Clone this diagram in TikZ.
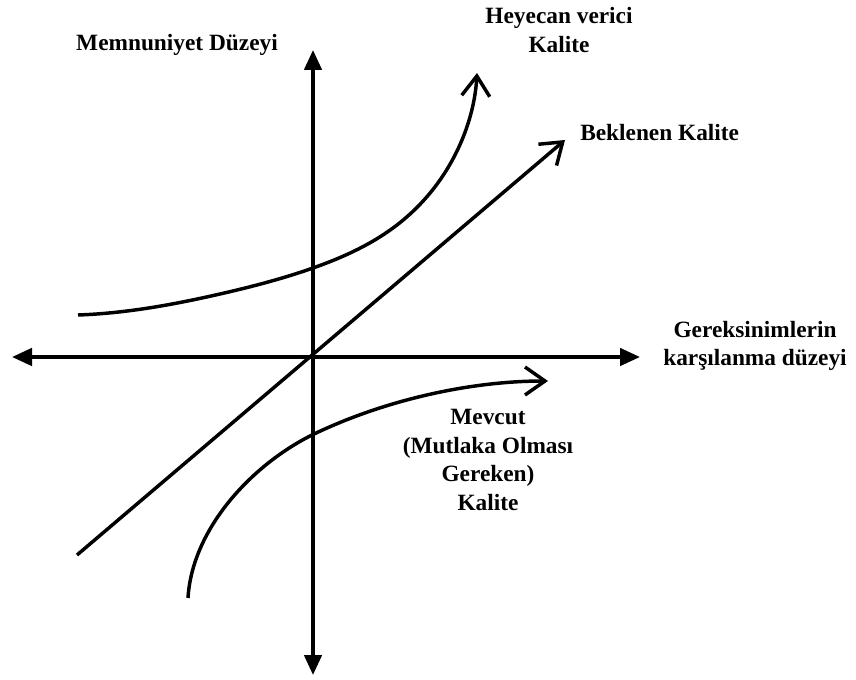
\documentclass[tikz,border=0pt]{standalone}
\usepackage{fontspec}
\setmainfont{Liberation Serif}
\usetikzlibrary{arrows.meta,hobby}
\tikzset{
  axis/.style={line width=2.7pt, {Triangle[length=15pt,width=13pt]}-{Triangle[length=15pt,width=13pt]}},
  curve/.style={line width=2.6pt, -{Straight Barb[length=15pt,width=21pt,line width=2.6pt]}},
  lbl/.style={font=\fontsize{17.5}{21.5}\selectfont\bfseries, align=center, inner sep=0pt}
}
\begin{document}
\begin{tikzpicture}[x=0.75pt,y=-0.75pt]
\useasboundingbox (0,0) rectangle (856,680);
% axis ends
\coordinate (top) at (313,50);
\coordinate (bottom) at (313,675);
\coordinate (left) at (12,357);
\coordinate (right) at (640,357);
\draw[axis] (bottom) -- (top);
\draw[axis] (left) -- (right);
% expected quality
\coordinate (bstart) at (77,555);
\coordinate (bend) at (565,140);
\draw[curve] (bstart) -- (bend);
% exciting quality
\coordinate (hstart) at (78,315);
\coordinate (hend) at (477,73);
\draw[curve, use Hobby shortcut] ([out angle=2]hstart) .. (220,294) .. (313,268) .. (393,228) .. (440,180) .. (hend);
% must-be quality
\coordinate (mstart) at (188,598);
\coordinate (mmid) at (312,435);
\coordinate (mend) at (548,381);
\draw[curve] (mstart) .. controls (192,530) and (250,466) .. (mmid)
  .. controls (382,401) and (468,381) .. (mend);
% labels
\node[lbl] (memn) at (177,45) {Memnuniyet Düzeyi};
\node[lbl] (heyecan) at (559,30) {Heyecan verici\\Kalite};
\node[lbl, anchor=west] (beklenen) at (580,133) {Beklenen Kalite};
\node[lbl] (gerek) at (755,346) {Gereksinimlerin\\karşılanma düzeyi};
\node[lbl] (mevcut) at (488,460) {Mevcut\\(Mutlaka Olması\\Gereken)\\Kalite};
\end{tikzpicture}
\end{document}
